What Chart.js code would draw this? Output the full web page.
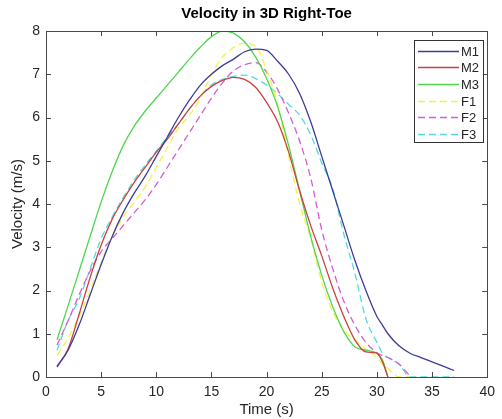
<!DOCTYPE html>
<html>
<head>
<meta charset="utf-8">
<script src="https://cdn.jsdelivr.net/npm/chart.js@4/dist/chart.umd.min.js"></script>
<style>
  html, body { margin: 0; padding: 0; background: #fff; }
  #wrap { width: 502px; height: 419px; }
</style>
</head>
<body>
<div id="wrap"><canvas id="myChart" width="502" height="419"></canvas></div>
<script>
// time (s) and velocity (m/s)
var timeArray = [1, 2, 3, 4, 5, 6, 7, 8, 9, 10, 11, 12, 13, 14, 15, 16, 17, 18, 19, 20,
    21, 22, 23, 24, 25, 26, 27, 28, 29, 30, 30.5, 31, 32, 33, 34, 35, 36, 37];

var m1Array = [0.23, 0.62, 1.2, 1.9, 2.6, 3.25, 3.8, 4.25, 4.65, 5.1, 5.55, 6.0, 6.4, 6.75, 7.0, 7.2, 7.35, 7.52, 7.58, 7.55,
    7.3, 7.0, 6.55, 5.9, 5.1, 4.3, 3.5, 2.7, 2.0, 1.4, 1.2, 1.0, 0.72, 0.55, 0.45, 0.35, 0.25, 0.15];
var m2Array = [0.25, 0.65, 1.45, 2.3, 3.05, 3.65, 4.1, 4.5, 4.85, 5.2, 5.5, 5.85, 6.2, 6.5, 6.72, 6.86, 6.93, 6.88, 6.7, 6.35,
    5.9, 5.2, 4.3, 3.5, 2.8, 2.05, 1.4, 0.86, 0.58, 0.55, 0.35, 0, null, null, null, null, null, null];
var m3Array = [0.86, 1.65, 2.45, 3.25, 4.05, 4.75, 5.35, 5.8, 6.15, 6.45, 6.75, 7.05, 7.35, 7.63, 7.87, 8.0, 7.95, 7.75, 7.4, 6.9,
    6.25, 5.35, 4.3, 3.25, 2.35, 1.62, 1.05, 0.7, 0.62, 0.55, 0.4, 0, null, null, null, null, null, null];
var f1Array = [0.5, 0.9, 1.4, 2.0, 2.65, 3.25, 3.7, 4.05, 4.4, 4.85, 5.3, 5.75, 6.05, 6.45, 7.0, 7.4, 7.62, 7.72, 7.65, 7.1,
    6.3, 5.1, 4.0, 3.2, 2.2, 1.5, 1.1, 0.85, 0.65, 0.45, 0.3, 0.2, 0, 0, null, null, null, null];
var f2Array = [0.74, 1.3, 1.9, 2.45, 2.9, 3.2, 3.5, 3.8, 4.1, 4.45, 4.85, 5.25, 5.65, 6.05, 6.45, 6.8, 7.08, 7.22, 7.27, 7.05,
    6.65, 6.1, 5.45, 4.6, 3.4, 2.5, 1.75, 1.2, 0.8, 0.56, 0.5, 0.45, 0.3, 0.02, null, null, null, null];
var f3Array = [0.62, 1.3, 1.8, 2.5, 3.2, 3.7, 4.15, 4.55, 4.9, 5.22, 5.55, 5.85, 6.2, 6.5, 6.75, 6.88, 6.95, 6.98, 6.9, 6.75,
    6.55, 6.3, 6.05, 5.6, 4.95, 4.35, 3.3, 2.4, 1.35, 0.8, 0.55, 0.45, 0.3, 0, 0, 0, 0, 0];

var seriesNames = ["M1", "M2", "M3", "F1", "F2", "F3"];
var seriesValues = [m1Array, m2Array, m3Array, f1Array, f2Array, f3Array];
var seriesColors = ["#3c3c9c", "#cc4040", "#4fd64f", "#f2f24a", "#d45cd4", "#55dada"];
var seriesDash = [[], [], [], [7, 4], [7, 4], [7, 4]];

var xTicks = [0, 5, 10, 15, 20, 25, 30, 35, 40];
var yTicks = [0, 1, 2, 3, 4, 5, 6, 7, 8];

var axisColor = "#4a4a4a";
var textColor = "#262626";
var fontFamily = "'Liberation Sans', Arial, Helvetica, sans-serif";

function toPoints(values) {
    var pts = [];
    for (var i = 0; i < timeArray.length; i++) {
        if (values[i] !== null) {
            pts.push({ x: timeArray[i], y: values[i] });
        }
    }
    return pts;
}

var datasets = [];
for (var i = 0; i < seriesNames.length; i++) {
    datasets.push({
        label: seriesNames[i],
        data: toPoints(seriesValues[i]),
        borderColor: seriesColors[i],
        backgroundColor: "transparent",
        borderWidth: 1.3,
        borderDash: seriesDash[i],
        pointRadius: 0,
        cubicInterpolationMode: "monotone",
        fill: false
    });
}

// matlab style box with inward ticks
var boxPlugin = {
    id: "boxPlugin",
    afterDatasetsDraw: function (chart) {
        var ctx = chart.ctx;
        var a = chart.chartArea;
        var xs = chart.scales.x;
        var ys = chart.scales.y;
        ctx.save();
        ctx.strokeStyle = axisColor;
        ctx.lineWidth = 1;
        ctx.strokeRect(Math.round(a.left) + 0.5, Math.round(a.top) + 0.5,
            Math.round(a.right - a.left), Math.round(a.bottom - a.top));
        ctx.beginPath();
        for (var i = 1; i < xTicks.length - 1; i++) {
            var px = Math.round(xs.getPixelForValue(xTicks[i])) + 0.5;
            ctx.moveTo(px, a.bottom);
            ctx.lineTo(px, a.bottom - 5);
            ctx.moveTo(px, a.top);
            ctx.lineTo(px, a.top + 5);
        }
        for (var j = 1; j < yTicks.length - 1; j++) {
            var py = Math.round(ys.getPixelForValue(yTicks[j])) + 0.5;
            ctx.moveTo(a.left, py);
            ctx.lineTo(a.left + 5, py);
            ctx.moveTo(a.right, py);
            ctx.lineTo(a.right - 5, py);
        }
        ctx.stroke();

        // legend box in the upper right
        var bx = 414.5, by = 40.5, bw = 69, bh = 102;
        ctx.fillStyle = "#fff";
        ctx.fillRect(bx, by, bw, bh);
        ctx.strokeStyle = "#333";
        ctx.strokeRect(bx, by, bw, bh);
        ctx.font = "13px " + fontFamily;
        ctx.textBaseline = "middle";
        ctx.textAlign = "left";
        for (var k = 0; k < chart.data.datasets.length; k++) {
            var ds = chart.data.datasets[k];
            var ly = Math.round(by + 10 + k * 16.7) + 0.5;
            ctx.strokeStyle = ds.borderColor;
            ctx.lineWidth = 1.3;
            ctx.setLineDash(ds.borderDash);
            ctx.beginPath();
            ctx.moveTo(418, ly);
            ctx.lineTo(459, ly);
            ctx.stroke();
            ctx.setLineDash([]);
            ctx.fillStyle = textColor;
            ctx.fillText(ds.label, 461, ly + 1);
        }
        ctx.restore();
    }
};

var ctx = document.getElementById("myChart").getContext("2d");
var chart = new Chart(ctx, {
    type: "line",
    data: { datasets: datasets },
    plugins: [boxPlugin],
    options: {
        responsive: false,
        animation: false,
        layout: { padding: { left: 0, right: 8, top: 0, bottom: 0 } },
        plugins: {
            legend: { display: false },
            tooltip: { enabled: false },
            title: {
                display: true,
                text: "Velocity in 3D Right-Toe",
                fullSize: false,
                color: "#000",
                font: { family: fontFamily, size: 15, weight: "bold" },
                padding: { top: 5, bottom: 8 }
            }
        },
        scales: {
            x: {
                type: "linear",
                min: 0,
                max: 40,
                afterBuildTicks: function (scale) {
                    scale.ticks = xTicks.map(function (v) { return { value: v }; });
                },
                afterFit: function (scale) { scale.height = 42; },
                grid: { display: false, drawTicks: false },
                border: { display: false },
                ticks: { color: textColor, padding: 7, maxRotation: 0, font: { family: fontFamily, size: 14 } },
                title: {
                    display: true,
                    text: "Time (s)",
                    color: textColor,
                    font: { family: fontFamily, size: 15 },
                    padding: { top: 0, bottom: 0 }
                }
            },
            y: {
                min: 0,
                max: 8,
                afterBuildTicks: function (scale) {
                    scale.ticks = yTicks.map(function (v) { return { value: v }; });
                },
                afterFit: function (scale) { scale.width = 46; },
                grid: { display: false, drawTicks: false },
                border: { display: false },
                ticks: { color: textColor, padding: 6, font: { family: fontFamily, size: 14 } },
                title: {
                    display: true,
                    text: "Velocity (m/s)",
                    color: textColor,
                    font: { family: fontFamily, size: 15 },
                    padding: { top: 9, bottom: 0 }
                }
            }
        }
    }
});
</script>
</body>
</html>
